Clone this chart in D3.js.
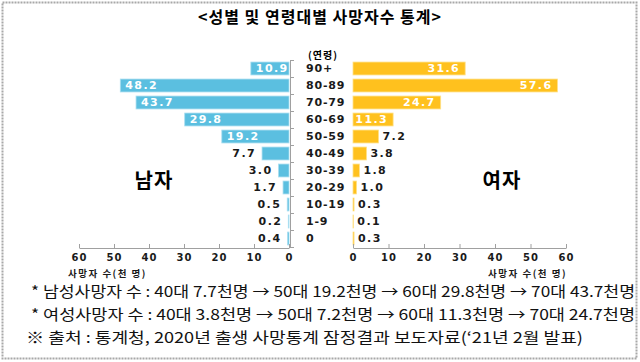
<!DOCTYPE html>
<html>
<head>
<meta charset="utf-8">
<title>성별 및 연령대별 사망자수 통계</title>
<style>
  body { margin: 0; background: #fff; }
  svg { display: block; }
  .num { font-family: "DejaVu Sans", sans-serif; font-weight: bold; }
  .kr { font-family: "Noto Sans CJK KR", sans-serif; }
</style>
</head>
<body>
<script src="https://cdn.jsdelivr.net/npm/d3@7"></script>
<script>
// data (thousand persons)
var ages = ["90+", "80-89", "70-79", "60-69", "50-59", "40-49", "30-39", "20-29", "10-19", "1-9", "0"];
var male = [10.9, 48.2, 43.7, 29.8, 19.2, 7.7, 3.0, 1.7, 0.5, 0.2, 0.4];
var female = [31.6, 57.6, 24.7, 11.3, 7.2, 3.8, 1.8, 1.0, 0.3, 0.1, 0.3];
var xTicks = [0, 10, 20, 30, 40, 50, 60];
var notes = [
  "* 남성사망자 수 : 40대 7.7천명 → 50대 19.2천명 → 60대 29.8천명 → 70대 43.7천명",
  "* 여성사망자 수 : 40대 3.8천명 → 50대 7.2천명  → 60대 11.3천명 → 70대 24.7천명",
  "※ 출처 : 통계청, 2020년 출생 사망통계 잠정결과 보도자료(‘21년 2월 발표)"
];

var W = 640, H = 362;
var blue = "#5bbfe0", yellow = "#ffc11e";

var svg = d3.select("body").append("svg")
    .attr("width", W)
    .attr("height", H);

svg.append("rect").attr("width", W).attr("height", H).attr("fill", "#fff");

// dotted frame
svg.append("rect")
    .attr("x", 2.5).attr("y", 2.5)
    .attr("width", 634).attr("height", 356)
    .attr("fill", "none")
    .attr("stroke", "#a8a8a8")
    .attr("stroke-width", 2)
    .attr("stroke-dasharray", "2,1");

// scales
var y = d3.scaleBand().domain(ages).range([60, 247]).paddingInner(0.24).paddingOuter(0.12);
var yEdge = d3.scaleLinear().domain([0, ages.length]).range([60, 247]);
var xL = d3.scaleLinear().domain([0, 60]).range([289, 79]);
var xR = d3.scaleLinear().domain([0, 60]).range([353, 566]);

var rows = ages.map(function (a, i) { return {age: a, m: male[i], f: female[i]}; });

// title
svg.append("text")
    .attr("class", "kr")
    .attr("x", 320).attr("y", 23)
    .attr("text-anchor", "middle")
    .attr("font-size", 16).attr("font-weight", "bold")
    .attr("letter-spacing", 1)
    .text("<성별 및 연령대별 사망자수 통계>");

svg.append("text")
    .attr("class", "kr")
    .attr("x", 323).attr("y", 59)
    .attr("text-anchor", "middle")
    .attr("font-size", 10).attr("font-weight", "bold")
    .attr("letter-spacing", 1)
    .text("(연령)");

// left vertical axis with ticks at row boundaries
var vAxis = svg.append("g")
    .attr("transform", "translate(290,0)")
    .call(d3.axisRight(yEdge).tickValues(d3.range(0, ages.length + 1)).tickSize(4).tickSizeOuter(0).tickFormat(""));
vAxis.selectAll("path, line").attr("stroke", "#a0a0a0");

// bars
svg.append("g").selectAll("rect").data(rows).enter().append("rect")
    .attr("x", function (d) { return xL(d.m); })
    .attr("y", function (d) { return y(d.age); })
    .attr("width", function (d) { return xL(0) - xL(d.m); })
    .attr("height", y.bandwidth())
    .attr("fill", blue)
    .attr("stroke", "#a9def0")
    .attr("stroke-width", 0.8);

svg.append("g").selectAll("rect").data(rows).enter().append("rect")
    .attr("x", xR(0))
    .attr("y", function (d) { return y(d.age); })
    .attr("width", function (d) { return xR(d.f) - xR(0); })
    .attr("height", y.bandwidth())
    .attr("fill", yellow)
    .attr("stroke", "#ffe189")
    .attr("stroke-width", 0.8);

// value labels
svg.append("g").selectAll("text").data(rows).enter().append("text")
    .attr("class", "num")
    .attr("font-size", 11)
    .attr("letter-spacing", 1.4)
    .attr("dy", "0.36em")
    .attr("y", function (d) { return y(d.age) + y.bandwidth() / 2; })
    .attr("x", function (d) { return d.m >= 10 ? xL(d.m) + 5 : xL(d.m) - 6; })
    .attr("text-anchor", function (d) { return d.m >= 10 ? "start" : "end"; })
    .attr("fill", function (d) { return d.m >= 10 ? "#fff" : "#1a1a1a"; })
    .text(function (d) { return d.m.toFixed(1); });

svg.append("g").selectAll("text").data(rows).enter().append("text")
    .attr("class", "num")
    .attr("font-size", 11)
    .attr("letter-spacing", 1.4)
    .attr("dy", "0.36em")
    .attr("y", function (d) { return y(d.age) + y.bandwidth() / 2; })
    .attr("x", function (d) { return d.f >= 10 ? xR(d.f) - 5 : xR(d.f) + 4; })
    .attr("text-anchor", function (d) { return d.f >= 10 ? "end" : "start"; })
    .attr("fill", function (d) { return d.f >= 10 ? "#fff" : "#1a1a1a"; })
    .text(function (d) { return d.f.toFixed(1); });

// age labels
svg.append("g").selectAll("text").data(ages).enter().append("text")
    .attr("class", "num")
    .attr("font-size", 11)
    .attr("letter-spacing", 0.8)
    .attr("x", 306)
    .attr("y", function (d) { return y(d) + y.bandwidth() / 2; })
    .attr("dy", "0.36em")
    .attr("fill", "#1a1a1a")
    .text(function (d) { return d; });

// bottom axes
function styleAxis(g) {
  g.selectAll("path, line").attr("stroke", "#a0a0a0");
  g.selectAll("text")
      .attr("class", "num")
      .attr("font-size", 10)
      .attr("letter-spacing", 1)
      .attr("fill", "#1a1a1a");
}
svg.append("g")
    .attr("transform", "translate(0,248)")
    .call(d3.axisBottom(xL).tickValues(xTicks).tickSizeInner(-4).tickSizeOuter(0).tickPadding(6))
    .call(styleAxis);
svg.append("g")
    .attr("transform", "translate(0,248)")
    .call(d3.axisBottom(xR).tickValues(xTicks).tickSizeInner(-4).tickSizeOuter(0).tickPadding(6))
    .call(styleAxis);

svg.append("text")
    .attr("class", "kr")
    .attr("x", 68).attr("y", 277)
    .attr("font-size", 9.5).attr("font-weight", "bold")
    .attr("letter-spacing", 1.5)
    .attr("fill", "#1a1a1a")
    .text("사망자 수(천 명)");
svg.append("text")
    .attr("class", "kr")
    .attr("x", 567).attr("y", 277)
    .attr("text-anchor", "end")
    .attr("font-size", 9.5).attr("font-weight", "bold")
    .attr("letter-spacing", 1.5)
    .attr("fill", "#1a1a1a")
    .text("사망자 수(천 명)");

// side labels
svg.append("text")
    .attr("class", "kr")
    .attr("x", 154).attr("y", 188)
    .attr("text-anchor", "middle")
    .attr("font-size", 20).attr("font-weight", "bold")
    .attr("letter-spacing", 1)
    .text("남자");
svg.append("text")
    .attr("class", "kr")
    .attr("x", 502).attr("y", 188)
    .attr("text-anchor", "middle")
    .attr("font-size", 20).attr("font-weight", "bold")
    .attr("letter-spacing", 1)
    .text("여자");

// footnotes
var noteX = [31, 31, 26], noteY = [297, 320, 343], noteLen = [604, 604, 557];
svg.append("g").selectAll("text").data(notes).enter().append("text")
    .attr("class", "kr")
    .attr("x", function (d, i) { return noteX[i]; })
    .attr("y", function (d, i) { return noteY[i]; })
    .attr("font-size", 15)
    .attr("textLength", function (d, i) { return noteLen[i]; })
    .attr("lengthAdjust", "spacingAndGlyphs")
    .attr("fill", "#111")
    .text(function (d) { return d; });
</script>
</body>
</html>
